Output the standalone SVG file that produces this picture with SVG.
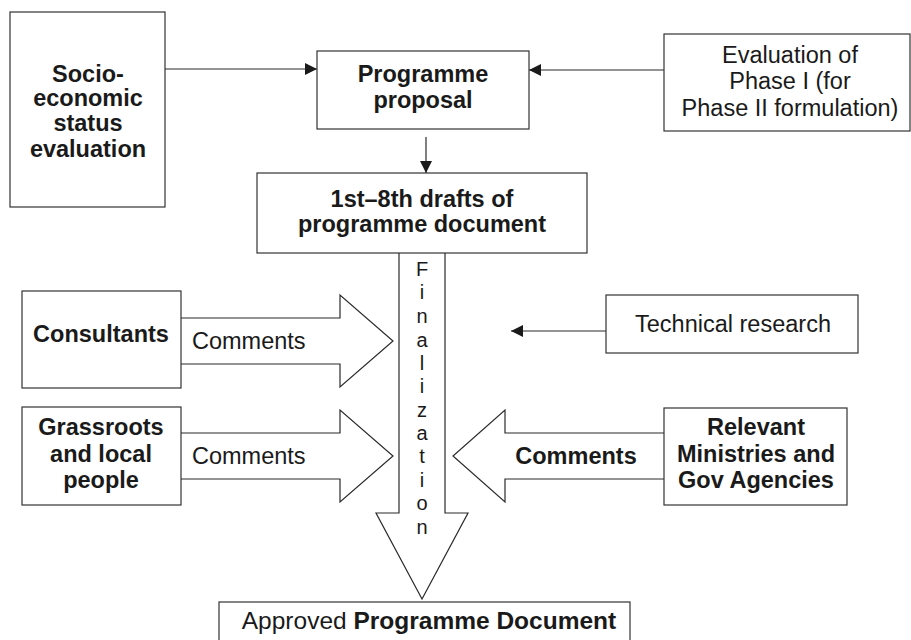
<svg xmlns="http://www.w3.org/2000/svg" width="911" height="640" viewBox="0 0 911 640">
  <style>
    .box { fill: #ffffff; stroke: #333333; stroke-width: 1.2; }
    .shape { fill: #ffffff; stroke: #2a2a2a; stroke-width: 1.2; stroke-linejoin: miter; }
    .line { fill: none; stroke: #2a2a2a; stroke-width: 1.2; }
    text { font-family: "Liberation Sans", Arial, sans-serif; font-size: 23.5px; fill: #1a1a1a; }
    .b { font-weight: bold; }
    .c { text-anchor: middle; }
    .v { font-size: 20px; text-anchor: middle; }
  </style>
  <defs>
    <marker id="tri" viewBox="0 0 12 12" refX="12" refY="6" markerWidth="12" markerHeight="12" markerUnits="userSpaceOnUse" orient="auto">
      <path d="M0,0 L12,6 L0,12 Z" fill="#1a1a1a"/>
    </marker>
  </defs>

  <rect width="911" height="640" fill="#ffffff"/>

  <!-- connectors -->
  <g id="connectors">
    <line class="line" x1="165" y1="69" x2="317" y2="69" marker-end="url(#tri)"/>
    <line class="line" x1="664" y1="70" x2="529" y2="70" marker-end="url(#tri)"/>
    <line class="line" x1="426" y1="137" x2="426" y2="173" marker-end="url(#tri)"/>
    <line class="line" x1="606" y1="331" x2="511" y2="331" marker-end="url(#tri)"/>
    <!-- block arrows -->
    <path class="shape" d="M181,318 L340,318 L340,295 L393,341 L340,387 L340,364 L181,364"/>
    <path class="shape" d="M181,433 L340,433 L340,410 L393,456 L340,502 L340,479 L181,479"/>
    <path class="shape" d="M664,433 L505,433 L505,410 L453,456 L505,502 L505,479 L664,479"/>
    <path class="shape" d="M399,253 L399,513 L376,513 L422,599 L468,513 L445,513 L445,253"/>
  </g>

  <g id="socio">
    <rect class="box" x="10" y="12" width="155" height="195"/>
    <text class="b c" x="88" y="82">Socio-</text>
    <text class="b c" x="88" y="106">economic</text>
    <text class="b c" x="88" y="131">status</text>
    <text class="b c" x="88" y="157">evaluation</text>
  </g>

  <g id="proposal">
    <rect class="box" x="317" y="51" width="212" height="78"/>
    <text class="b c" x="423" y="82">Programme</text>
    <text class="b c" x="423" y="108">proposal</text>
  </g>

  <g id="phase-eval">
    <rect class="box" x="664" y="34" width="246" height="97"/>
    <text class="c" x="790" y="63">Evaluation of</text>
    <text class="c" x="790" y="89">Phase I (for</text>
    <text class="c" x="790" y="116">Phase II formulation)</text>
  </g>

  <g id="drafts">
    <rect class="box" x="257" y="173" width="330" height="80"/>
    <text class="b c" x="422" y="207">1st–8th drafts of</text>
    <text class="b c" x="422" y="232">programme document</text>
  </g>

  <g id="finalization">
    <text class="v" x="422" y="276">F</text>
    <text class="v" x="422" y="299">i</text>
    <text class="v" x="422" y="323">n</text>
    <text class="v" x="422" y="347">a</text>
    <text class="v" x="422" y="370">l</text>
    <text class="v" x="422" y="393">i</text>
    <text class="v" x="422" y="417">z</text>
    <text class="v" x="422" y="440">a</text>
    <text class="v" x="422" y="463">t</text>
    <text class="v" x="422" y="487">i</text>
    <text class="v" x="422" y="510">o</text>
    <text class="v" x="422" y="534">n</text>
  </g>

  <g id="consultants">
    <rect class="box" x="22" y="291" width="159" height="97"/>
    <text class="b c" x="101" y="342">Consultants</text>
    <text x="192" y="349">Comments</text>
  </g>

  <g id="grassroots">
    <rect class="box" x="22" y="407" width="159" height="98"/>
    <text class="b c" x="101" y="435">Grassroots</text>
    <text class="b c" x="101" y="462">and local</text>
    <text class="b c" x="101" y="488">people</text>
    <text x="192" y="464">Comments</text>
  </g>

  <g id="technical">
    <rect class="box" x="606" y="295" width="252" height="58"/>
    <text class="c" x="733" y="332">Technical research</text>
  </g>

  <g id="ministries">
    <rect class="box" x="664" y="408" width="183" height="97"/>
    <text class="b c" x="756" y="435">Relevant</text>
    <text class="b c" x="756" y="462">Ministries and</text>
    <text class="b c" x="756" y="488">Gov Agencies</text>
    <text class="b c" x="576" y="464">Comments</text>
  </g>

  <g id="approved">
    <rect class="box" x="219" y="602" width="411" height="50"/>
    <text class="c" x="429" y="629" style="font-size:24.5px">Approved <tspan class="b">Programme Document</tspan></text>
  </g>
</svg>
